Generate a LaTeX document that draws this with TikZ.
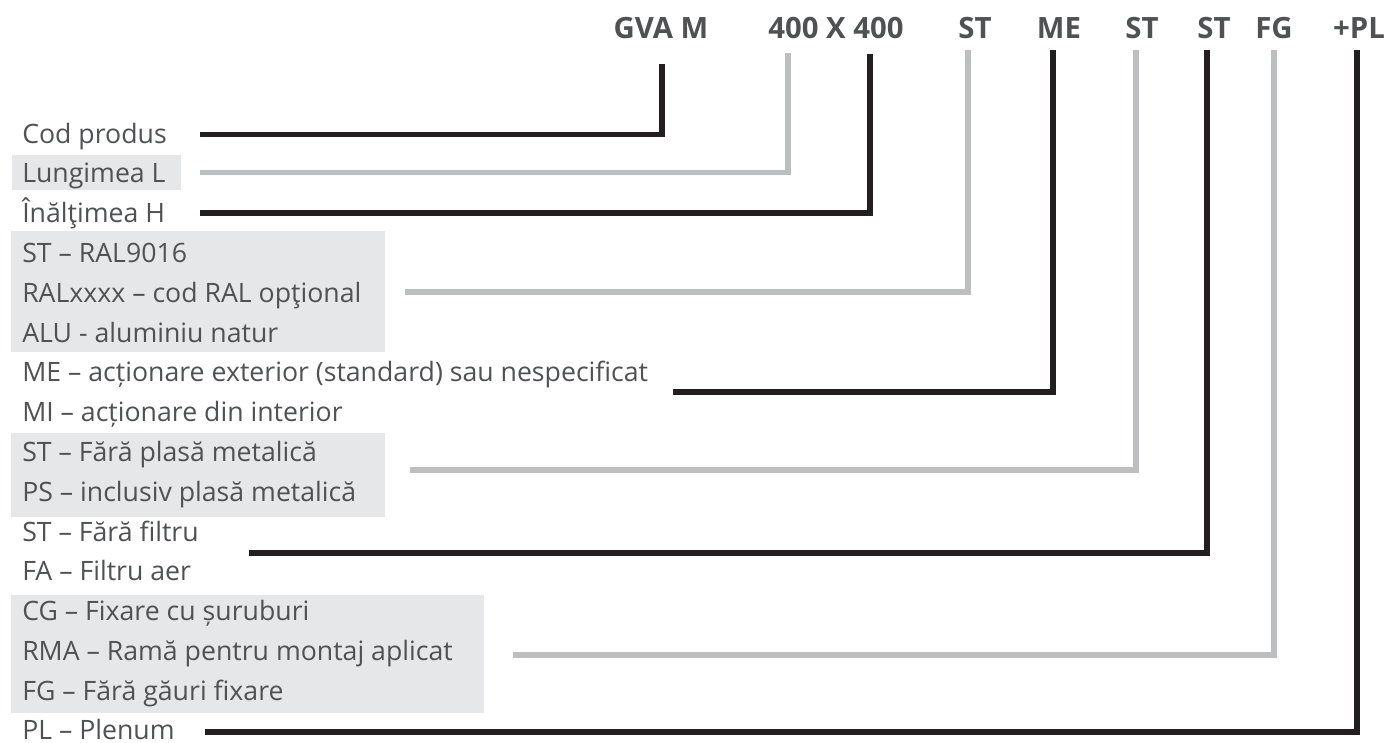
\documentclass[tikz,border=0pt]{standalone}
\usepackage{fontspec}
\setmainfont{Open Sans}

\definecolor{txtgray}{HTML}{505153}
\definecolor{bandgray}{HTML}{E6E7E8}
\definecolor{linegray}{HTML}{BCBEC0}
\definecolor{lineblack}{HTML}{231F20}

\tikzset{
  code/.style={font=\fontsize{22}{26}\selectfont\bfseries, text=txtgray, anchor=base, inner sep=0pt},
  item/.style={font=\fontsize{20}{24}\selectfont, text=txtgray, anchor=base west, inner sep=0pt},
  darkline/.style={draw=lineblack, line width=4pt, line join=miter},
  lightline/.style={draw=linegray, line width=4pt, line join=miter},
  band/.style={fill=bandgray, draw=none}
}

\begin{document}
\begin{tikzpicture}[x=0.75pt,y=0.75pt,yscale=-1]
\useasboundingbox (0,0) rectangle (1391,742);

%Shapes: grey bands
\fill [band] (12,155) rectangle (181,190);
\fill [band] (11,231) rectangle (385,352);
\fill [band] (11,433) rectangle (385,517);
\fill [band] (11,595) rectangle (484,713);

% Code Nodes
\node [code] (gva) at (661,39) {GVA M};
\node [code] (dim) at (836,39) {400 X 400};
\node [code] (col) at (975,39) {ST};
\node [code] (act) at (1059,39) {ME};
\node [code] (net) at (1142,39) {ST};
\node [code] (flt) at (1214,39) {ST};
\node [code] (fix) at (1274,39) {FG};
\node [code] (ple) at (1359,39) {+PL};

% Text Nodes
\node [item] (cod) at (22,143) {Cod produs};
\node [item] (lung) at (22,182.8) {Lungimea L};
\node [item] (inalt) at (22,222.6) {Înălţimea H};
\node [item] (ralst) at (22,262.4) {ST – RAL9016};
\node [item] (ralopt) at (22,302.2) {RALxxxx – cod RAL opţional};
\node [item] (alu) at (22,342) {ALU - aluminiu natur};
\node [item] (me) at (22,381.8) {ME – acționare exterior (standard) sau nespecificat};
\node [item] (mi) at (22,421.6) {MI – acționare din interior};
\node [item] (plst) at (22,461.4) {ST – Fără plasă metalică};
\node [item] (plps) at (22,501.2) {PS – inclusiv plasă metalică};
\node [item] (fltst) at (22,541) {ST – Fără filtru};
\node [item] (fltfa) at (22,580.8) {FA – Filtru aer};
\node [item] (cg) at (22,620.6) {CG – Fixare cu șuruburi};
\node [item] (rma) at (22,660.4) {RMA – Ramă pentru montaj aplicat};
\node [item] (fg) at (22,700.2) {FG – Fără găuri fixare};
\node [item] (pl) at (22,739) {PL – Plenum};

% Coordinates: line starts and tops
\coordinate (sCod) at (200,134.5);
\coordinate (sLung) at (200,172.7);
\coordinate (sInalt) at (200,213);
\coordinate (sRal) at (405,292);
\coordinate (sAct) at (673,392);
\coordinate (sNet) at (410,470);
\coordinate (sFlt) at (249,553);
\coordinate (sFix) at (513,655);
\coordinate (sPle) at (205,732);
\coordinate (tGva) at (662,64);
\coordinate (tLung) at (788,53);
\coordinate (tInalt) at (870,54);
\coordinate (tCol) at (968,50);
\coordinate (tAct) at (1053,50);
\coordinate (tNet) at (1136,50);
\coordinate (tFlt) at (1207,50);
\coordinate (tFix) at (1274,50);
\coordinate (tPle) at (1357,50);

%Straight Lines
\draw [darkline] (sCod) -| (tGva);
\draw [lightline] (sLung) -| (tLung);
\draw [darkline] (sInalt) -| (tInalt);
\draw [lightline] (sRal) -| (tCol);
\draw [darkline] (sAct) -| (tAct);
\draw [lightline] (sNet) -| (tNet);
\draw [darkline] (sFlt) -| (tFlt);
\draw [lightline] (sFix) -| (tFix);
\draw [darkline] (sPle) -| (tPle);

\end{tikzpicture}
\end{document}
